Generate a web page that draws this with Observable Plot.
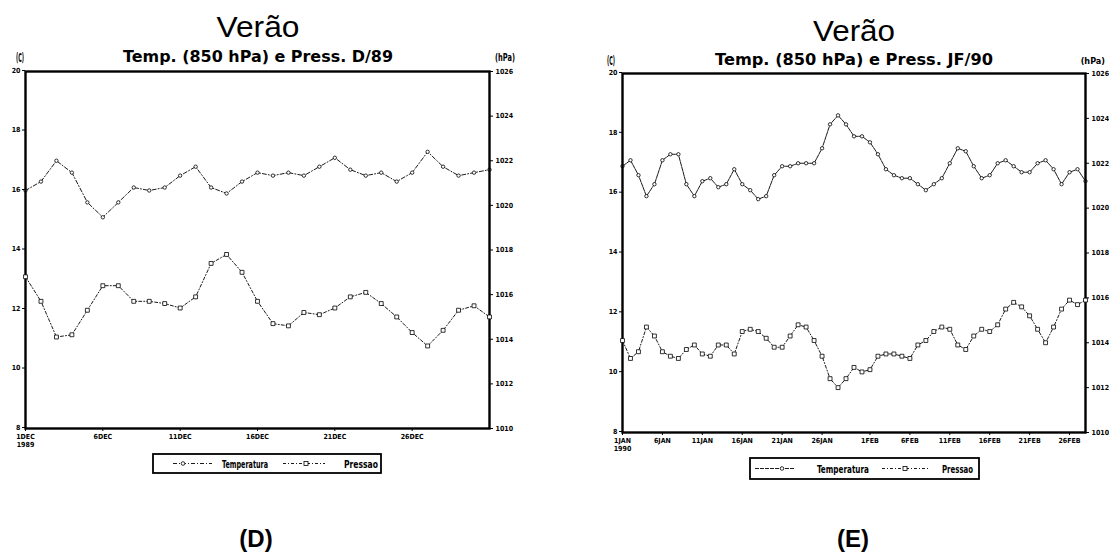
<!DOCTYPE html>
<html><head><meta charset="utf-8">
<script src="https://cdn.jsdelivr.net/npm/d3@7"></script>
<script src="https://cdn.jsdelivr.net/npm/@observablehq/plot@0.6"></script>
<style>
body{margin:0;background:#fff;}
#page{position:relative;width:1109px;height:553px;overflow:hidden;background:#fff;}
.layer{position:absolute;left:0;top:0;}
</style></head><body><div id="page"></div>
<script>
// ---------- Panel D : December 1989 (daily) ----------
const tempD = [16.0,16.3,17.0,16.6,15.6,15.1,15.6,16.1,16.0,16.1,16.5,16.8,16.1,15.9,16.3,16.6,16.5,16.6,16.5,16.8,17.1,16.7,16.5,16.6,16.3,16.6,17.3,16.8,16.5,16.6,16.7];
const pressD = [1016.8,1015.7,1014.1,1014.2,1015.3,1016.4,1016.4,1015.7,1015.7,1015.6,1015.4,1015.9,1017.4,1017.8,1017.0,1015.7,1014.7,1014.6,1015.2,1015.1,1015.4,1015.9,1016.1,1015.6,1015.0,1014.3,1013.7,1014.4,1015.3,1015.5,1015.0];
const xTicksD = ["1989-12-01","1989-12-06","1989-12-11","1989-12-16","1989-12-21","1989-12-26"];
const xLabelsD = ["1DEC\n1989","6DEC","11DEC","16DEC","21DEC","26DEC"];

// ---------- Panel E : January-February 1990 (daily) ----------
const tempE = [16.9,17.1,16.6,15.9,16.3,17.1,17.3,17.3,16.3,15.9,16.4,16.5,16.2,16.3,16.8,16.3,16.1,15.8,15.9,16.6,16.9,16.9,17.0,17.0,17.0,17.5,18.3,18.6,18.3,17.9,17.9,17.7,17.3,16.8,16.6,16.5,16.5,16.3,16.1,16.3,16.5,17.0,17.5,17.4,16.9,16.5,16.6,17.0,17.1,16.9,16.7,16.7,17.0,17.1,16.8,16.3,16.7,16.8,16.4];
const pressE = [1014.1,1013.3,1013.6,1014.7,1014.3,1013.6,1013.4,1013.3,1013.7,1013.9,1013.5,1013.4,1013.9,1013.9,1013.5,1014.5,1014.6,1014.5,1014.2,1013.8,1013.8,1014.3,1014.8,1014.7,1014.1,1013.4,1012.4,1012.0,1012.4,1012.9,1012.7,1012.8,1013.4,1013.5,1013.5,1013.4,1013.3,1013.9,1014.1,1014.5,1014.7,1014.6,1013.9,1013.7,1014.3,1014.6,1014.5,1014.8,1015.5,1015.8,1015.6,1015.2,1014.6,1014.0,1014.7,1015.5,1015.9,1015.7,1015.9];
const xTicksE = ["1990-01-01","1990-01-06","1990-01-11","1990-01-16","1990-01-21","1990-01-26","1990-02-01","1990-02-06","1990-02-11","1990-02-16","1990-02-21","1990-02-26"];
const xLabelsE = ["1JAN\n1990","6JAN","11JAN","16JAN","21JAN","26JAN","1FEB","6FEB","11FEB","16FEB","21FEB","26FEB"];

// ---------- shared axes / texts ----------
const tempTicks = [8,10,12,14,16,18,20];
const pressTicks = [1010,1012,1014,1016,1018,1020,1022,1024,1026];
const titleText = "Verão";
const subtitleD = "Temp. (850 hPa) e Press. D/89";
const subtitleE = "Temp. (850 hPa) e Press. JF/90";
const unitLeft = "(C)";
const unitRight = "(hPa)";
const legendLabels = ["Temperatura","Pressao"];
const panelLetters = ["(D)","(E)"];

const narrow = "'Liberation Sans Narrow','DejaVu Sans Condensed','Liberation Sans',sans-serif";
const page = d3.select("#page");

function panel(cfg){
  const dates = d3.utcDay.range(cfg.start, cfg.endExcl);
  const tData = dates.map((d,i)=>({date:d, v:cfg.temp[i]}));
  const pData = dates.map((d,i)=>({date:d, v:cfg.press[i]}));
  const xDom = [dates[0], dates[dates.length-1]];
  const tickDates = cfg.xTicks.map(s=>new Date(s+"T00:00:00Z"));
  const labelMap = new Map(tickDates.map((d,i)=>[+d, cfg.xLabels[i]]));
  const common = {
    width:cfg.w, height:cfg.h,
    marginLeft:cfg.ml, marginRight:cfg.mr, marginTop:cfg.mt, marginBottom:cfg.mb,
    style:{fontFamily:narrow, fontSize:"7px", background:"transparent", overflow:"visible"}
  };
  const A = Plot.plot({
    ...common,
    x:{type:"utc", domain:xDom},
    y:{domain:[8,20]},
    marks:[
      Plot.axisX({ticks:tickDates, tickFormat:d=>labelMap.get(+d), tickSize:3, tickPadding:2, fontWeight:"bold", label:null, lineHeight:1.15}),
      Plot.axisY({ticks:tempTicks, tickFormat:d=>String(d), tickSize:3, tickPadding:2, fontWeight:"bold", label:null, dy:-1}),
      Plot.line(tData,{x:"date", y:"v", stroke:"black", strokeWidth:0.9, strokeDasharray:cfg.tDash}),
      Plot.dot(tData,{x:"date", y:"v", r:1.7, stroke:"black", fill:"white", strokeWidth:0.8}),
      Plot.frame({stroke:"black", strokeWidth:2.4})
    ]
  });
  const B = Plot.plot({
    ...common,
    x:{type:"utc", domain:xDom, axis:null},
    y:{domain:[1010,1026]},
    marks:[
      Plot.axisY({anchor:"right", ticks:pressTicks, tickFormat:d=>String(d), tickSize:3, tickPadding:3, fontWeight:"bold", label:null}),
      Plot.line(pData,{x:"date", y:"v", stroke:"black", strokeWidth:0.9, strokeDasharray:cfg.pDash}),
      Plot.dot(pData,{x:"date", y:"v", symbol:"square", r:2.2, stroke:"black", fill:"white", strokeWidth:0.8})
    ]
  });
  const box = page.append("div").style("position","absolute").style("left",cfg.left+"px").style("top",cfg.top+"px")
    .style("width",cfg.w+"px").style("height",cfg.h+"px");
  box.node().appendChild(A); A.classList.add("layer");
  box.node().appendChild(B); B.classList.add("layer");
}

panel({start:Date.UTC(1989,11,1), endExcl:Date.UTC(1990,0,1), temp:tempD, press:pressD, xTicks:xTicksD, xLabels:xLabelsD,
  left:0, top:60, w:540, h:400, ml:25, mr:51, mt:11, mb:32, tDash:"4,2,1,2", pDash:"3,2,1,2"});
panel({start:Date.UTC(1990,0,1), endExcl:Date.UTC(1990,2,1), temp:tempE, press:pressE, xTicks:xTicksE, xLabels:xLabelsE,
  left:560, top:60, w:549, h:400, ml:62, mr:24, mt:13, mb:28, tDash:"4,1", pDash:"3,2,1,2"});

// ---------- titles, units, legends, panel letters ----------
const svg = page.append("svg").attr("class","layer").attr("width",1109).attr("height",553).style("pointer-events","none");
function txt(x,y,s,o){
  const t = svg.append("text").attr("x",x).attr("y",y).text(s)
    .attr("font-family",o.family).attr("font-size",o.size).attr("font-weight",o.weight||"normal")
    .attr("text-anchor",o.anchor||"start").attr("fill","black");
  if(o.len){ t.attr("textLength",o.len).attr("lengthAdjust","spacingAndGlyphs"); }
  return t;
}
const sans = "'Liberation Sans',Arial,sans-serif";
const deja = "'DejaVu Sans',sans-serif";
// panel D
txt(258,37,titleText,{family:sans,size:29,anchor:"middle",len:83});
txt(123,62,subtitleD,{family:deja,size:15,weight:"bold",len:270});
txt(16,62,unitLeft,{family:narrow,size:12,weight:"bold",len:8});
txt(495,61,unitRight,{family:narrow,size:10,weight:"bold",len:20});
// panel E
txt(854,41,titleText,{family:sans,size:29,anchor:"middle",len:82});
txt(715,65,subtitleE,{family:deja,size:15,weight:"bold",len:278});
txt(607,65,unitLeft,{family:narrow,size:12,weight:"bold",len:8});
txt(1105,64,unitRight,{family:narrow,size:9,weight:"bold",anchor:"end"});

function legend(L){
  svg.append("rect").attr("x",L.x).attr("y",L.y).attr("width",L.w).attr("height",L.h)
    .attr("fill","white").attr("stroke","black").attr("stroke-width",1.8);
  const cy = L.y + L.h/2;
  svg.append("line").attr("x1",L.t0).attr("x2",L.t1).attr("y1",cy).attr("y2",cy).attr("stroke","black").attr("stroke-width",0.9).attr("stroke-dasharray",L.tDash);
  svg.append("circle").attr("cx",L.tm).attr("cy",cy).attr("r",1.8).attr("fill","white").attr("stroke","black").attr("stroke-width",0.8);
  txt(L.tx,cy+4,legendLabels[0],{family:narrow,size:11,weight:"bold",len:L.tl});
  svg.append("line").attr("x1",L.p0).attr("x2",L.p1).attr("y1",cy).attr("y2",cy).attr("stroke","black").attr("stroke-width",0.9).attr("stroke-dasharray",L.pDash);
  svg.append("rect").attr("x",L.pm-2).attr("y",cy-2).attr("width",4).attr("height",4).attr("fill","white").attr("stroke","black").attr("stroke-width",0.8);
  txt(L.px,cy+4,legendLabels[1],{family:narrow,size:11,weight:"bold",len:L.pl});
}
legend({x:153,y:454,w:228,h:19,t0:173,t1:212,tm:183,tx:222,tl:46,p0:283,p1:325,pm:306,px:344,pl:34,tDash:"4,2,1,2",pDash:"3,2,1,2"});
legend({x:750,y:458,w:229,h:21,t0:755,t1:795,tm:782,tx:817,tl:52,p0:882,p1:930,pm:905,px:942,pl:31,tDash:"4,1",pDash:"3,2,1,2"});

txt(256,547,panelLetters[0],{family:sans,size:24,weight:"bold",anchor:"middle"});
txt(853,547,panelLetters[1],{family:sans,size:24,weight:"bold",anchor:"middle"});
</script></body></html>
